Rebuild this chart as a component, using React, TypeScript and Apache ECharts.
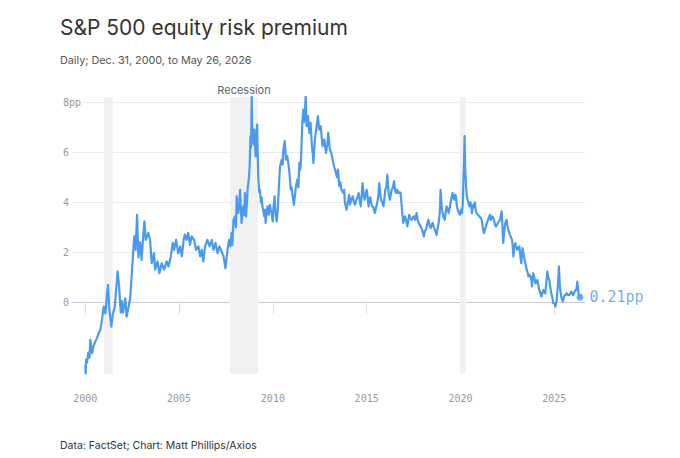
import React, { useEffect, useRef } from "react";
import * as echarts from "echarts";

// [decimal year, equity risk premium in percentage points]
const premiumSeries: [number, number][] = [
  [2000.0, -2.5], [2000.02, -2.83], [2000.04, -2.29], [2000.09, -2.4], [2000.16, -2.0], [2000.22, -2.2],
  [2000.27, -1.49], [2000.36, -2.02], [2000.43, -1.75], [2000.5, -1.62], [2000.62, -1.42], [2000.71, -1.22],
  [2000.8, -1.09], [2000.89, -0.69], [2000.98, -0.16], [2001.07, -0.43], [2001.16, 0.38], [2001.21, 0.71],
  [2001.28, -0.29], [2001.39, -0.96], [2001.46, -0.49], [2001.57, -0.16], [2001.67, 0.78], [2001.72, 1.24],
  [2001.8, 0.65], [2001.89, -0.4], [2001.94, 0.07], [2002.01, -0.4], [2002.13, 0.17], [2002.2, -0.56],
  [2002.31, -0.16], [2002.4, 0.24], [2002.49, 1.31], [2002.56, 2.1], [2002.61, 2.64], [2002.68, 2.1],
  [2002.76, 3.5], [2002.83, 1.8], [2002.92, 2.4], [2003.0, 1.7], [2003.08, 2.6], [2003.15, 3.24],
  [2003.22, 2.5], [2003.36, 2.78], [2003.45, 2.5], [2003.54, 1.57], [2003.66, 1.97], [2003.72, 1.31],
  [2003.85, 1.64], [2003.95, 1.17], [2004.07, 1.57], [2004.2, 1.31], [2004.34, 1.64], [2004.43, 1.44],
  [2004.56, 1.84], [2004.66, 2.38], [2004.73, 2.1], [2004.84, 2.5], [2004.95, 1.97], [2005.06, 2.24],
  [2005.15, 1.84], [2005.24, 2.5], [2005.31, 2.71], [2005.4, 2.5], [2005.49, 2.78], [2005.58, 2.3],
  [2005.67, 2.64], [2005.8, 2.5], [2005.9, 2.1], [2006.03, 2.24], [2006.12, 1.84], [2006.21, 2.1],
  [2006.29, 1.64], [2006.38, 2.24], [2006.51, 2.5], [2006.62, 2.24], [2006.74, 2.5], [2006.83, 2.1],
  [2006.94, 2.38], [2007.05, 1.97], [2007.15, 2.24], [2007.26, 2.04], [2007.37, 1.84], [2007.47, 1.37],
  [2007.58, 2.1], [2007.66, 2.5], [2007.73, 2.24], [2007.8, 2.78], [2007.84, 2.3], [2007.9, 3.3],
  [2007.98, 3.44], [2008.03, 3.0], [2008.07, 4.24], [2008.12, 3.6], [2008.16, 3.57], [2008.21, 4.0],
  [2008.25, 4.5], [2008.33, 3.18], [2008.38, 3.6], [2008.42, 3.84], [2008.47, 3.5], [2008.51, 4.37],
  [2008.57, 3.44], [2008.62, 4.0], [2008.65, 4.5], [2008.73, 5.04], [2008.77, 5.6], [2008.8, 6.64],
  [2008.84, 6.2], [2008.87, 8.24], [2008.9, 6.8], [2008.94, 6.5], [2008.98, 6.3], [2009.01, 6.9],
  [2009.05, 6.3], [2009.08, 5.84], [2009.12, 6.6], [2009.16, 7.1], [2009.19, 6.0], [2009.22, 5.04],
  [2009.27, 4.4], [2009.31, 4.5], [2009.36, 4.0], [2009.4, 4.2], [2009.44, 3.84], [2009.5, 3.6],
  [2009.54, 3.44], [2009.58, 3.7], [2009.61, 3.18], [2009.66, 3.6], [2009.72, 3.84], [2009.78, 3.5],
  [2009.84, 3.9], [2009.89, 3.7], [2009.93, 3.57], [2009.99, 3.24], [2010.04, 3.9], [2010.09, 4.24],
  [2010.14, 3.6], [2010.2, 3.24], [2010.26, 3.7], [2010.31, 4.5], [2010.38, 5.44], [2010.47, 5.7],
  [2010.52, 5.5], [2010.56, 6.1], [2010.63, 6.44], [2010.7, 5.7], [2010.77, 5.84], [2010.83, 5.5],
  [2010.88, 5.2], [2010.95, 4.5], [2011.0, 4.6], [2011.05, 4.24], [2011.12, 3.9], [2011.18, 4.3],
  [2011.23, 4.64], [2011.3, 4.9], [2011.36, 4.6], [2011.41, 5.57], [2011.46, 5.3], [2011.5, 5.7],
  [2011.57, 7.17], [2011.62, 7.7], [2011.66, 7.2], [2011.69, 7.44], [2011.75, 8.24], [2011.8, 7.04],
  [2011.87, 7.44], [2011.94, 6.77], [2012.01, 7.17], [2012.08, 6.24], [2012.12, 6.0], [2012.16, 5.57],
  [2012.2, 6.1], [2012.24, 6.5], [2012.33, 7.04], [2012.4, 7.44], [2012.47, 6.9], [2012.55, 7.04],
  [2012.6, 6.6], [2012.65, 6.24], [2012.74, 6.5], [2012.83, 5.97], [2012.9, 6.3], [2012.95, 6.77],
  [2013.04, 6.1], [2013.1, 6.0], [2013.15, 5.84], [2013.21, 5.6], [2013.26, 5.44], [2013.36, 5.17],
  [2013.42, 5.0], [2013.47, 5.3], [2013.54, 4.64], [2013.6, 4.8], [2013.65, 4.5], [2013.75, 4.37],
  [2013.8, 4.5], [2013.84, 3.97], [2013.93, 3.7], [2013.97, 3.9], [2014.02, 4.1], [2014.07, 4.3],
  [2014.11, 3.9], [2014.18, 4.1], [2014.25, 4.24], [2014.32, 4.0], [2014.38, 3.9], [2014.45, 4.1],
  [2014.52, 4.2], [2014.57, 4.37], [2014.63, 4.1], [2014.68, 3.84], [2014.73, 4.2], [2014.78, 4.77],
  [2014.84, 4.3], [2014.89, 4.1], [2015.0, 4.5], [2015.05, 4.2], [2015.1, 3.84], [2015.14, 4.1],
  [2015.2, 4.2], [2015.26, 3.9], [2015.35, 3.8], [2015.44, 3.57], [2015.5, 3.8], [2015.57, 4.0],
  [2015.63, 4.3], [2015.67, 4.77], [2015.72, 4.4], [2015.76, 4.1], [2015.83, 4.0], [2015.89, 3.84],
  [2015.94, 4.1], [2015.99, 4.5], [2016.05, 4.6], [2016.1, 5.1], [2016.17, 4.37], [2016.24, 4.1],
  [2016.33, 4.5], [2016.4, 4.6], [2016.46, 4.84], [2016.51, 4.5], [2016.56, 4.37], [2016.62, 4.5],
  [2016.69, 4.37], [2016.75, 4.4], [2016.81, 4.37], [2016.85, 4.0], [2016.88, 3.7], [2016.95, 3.18],
  [2017.04, 3.44], [2017.1, 3.3], [2017.17, 3.04], [2017.22, 3.3], [2017.27, 3.5], [2017.33, 3.35],
  [2017.4, 3.3], [2017.46, 3.4], [2017.52, 3.44], [2017.58, 3.3], [2017.66, 3.57], [2017.72, 3.3],
  [2017.77, 3.18], [2017.83, 3.1], [2017.88, 3.04], [2017.93, 2.95], [2017.98, 2.84], [2018.05, 2.64],
  [2018.1, 2.85], [2018.16, 2.9], [2018.22, 3.1], [2018.29, 3.3], [2018.35, 3.1], [2018.41, 2.97],
  [2018.47, 3.1], [2018.52, 3.18], [2018.58, 3.0], [2018.64, 2.9], [2018.69, 2.8], [2018.73, 2.7],
  [2018.79, 3.0], [2018.84, 3.18], [2018.9, 3.6], [2018.94, 4.5], [2018.99, 3.9], [2019.05, 3.57],
  [2019.1, 3.4], [2019.16, 3.3], [2019.21, 3.6], [2019.26, 3.84], [2019.32, 3.7], [2019.37, 3.57],
  [2019.43, 3.8], [2019.48, 4.0], [2019.53, 4.2], [2019.58, 4.37], [2019.63, 4.2], [2019.67, 4.1],
  [2019.72, 4.3], [2019.76, 4.24], [2019.8, 3.9], [2019.85, 3.7], [2019.91, 3.6], [2019.97, 3.5],
  [2020.03, 3.7], [2020.08, 3.57], [2020.12, 3.9], [2020.15, 4.64], [2020.19, 5.6], [2020.22, 6.64],
  [2020.25, 5.4], [2020.29, 4.77], [2020.33, 4.3], [2020.38, 4.1], [2020.42, 4.0], [2020.47, 3.84],
  [2020.54, 4.0], [2020.58, 3.8], [2020.61, 3.57], [2020.68, 3.9], [2020.72, 3.8], [2020.77, 4.0],
  [2020.81, 3.7], [2020.86, 3.57], [2020.93, 3.5], [2021.0, 3.44], [2021.06, 3.4], [2021.13, 3.3],
  [2021.19, 3.0], [2021.25, 2.77], [2021.3, 2.9], [2021.36, 3.04], [2021.42, 3.2], [2021.47, 3.3],
  [2021.52, 3.4], [2021.57, 3.5], [2021.62, 3.3], [2021.68, 3.44], [2021.74, 3.4], [2021.79, 3.3],
  [2021.84, 3.1], [2021.89, 3.04], [2021.95, 3.1], [2022.0, 3.18], [2022.06, 3.25], [2022.11, 3.3],
  [2022.16, 3.5], [2022.2, 3.64], [2022.24, 3.0], [2022.28, 2.38], [2022.33, 2.8], [2022.39, 3.18],
  [2022.46, 3.3], [2022.5, 3.1], [2022.55, 2.9], [2022.6, 2.8], [2022.64, 2.7], [2022.7, 2.6],
  [2022.75, 2.5], [2022.79, 2.2], [2022.82, 1.84], [2022.87, 2.2], [2022.92, 2.37], [2022.98, 2.2],
  [2023.03, 2.1], [2023.09, 2.2], [2023.14, 2.24], [2023.19, 1.9], [2023.24, 1.57], [2023.28, 1.9],
  [2023.31, 2.17], [2023.37, 1.9], [2023.42, 1.7], [2023.48, 1.5], [2023.53, 1.31], [2023.58, 1.2],
  [2023.63, 1.04], [2023.68, 1.1], [2023.74, 1.04], [2023.78, 0.9], [2023.81, 0.64], [2023.85, 0.9],
  [2023.88, 1.17], [2023.94, 1.0], [2023.99, 0.77], [2024.05, 0.8], [2024.1, 0.9], [2024.15, 0.7],
  [2024.2, 0.5], [2024.26, 0.4], [2024.31, 0.24], [2024.37, 0.4], [2024.42, 0.5], [2024.47, 0.4],
  [2024.52, 0.37], [2024.58, 0.8], [2024.63, 1.24], [2024.68, 1.0], [2024.74, 0.9], [2024.79, 0.6],
  [2024.84, 0.37], [2024.9, 0.2], [2024.95, -0.03], [2025.02, -0.05], [2025.06, -0.16], [2025.13, 0.1],
  [2025.2, 0.77], [2025.25, 1.44], [2025.3, 0.64], [2025.37, 0.24], [2025.45, 0.04], [2025.52, 0.24],
  [2025.59, 0.3], [2025.66, 0.37], [2025.73, 0.3], [2025.8, 0.3], [2025.86, 0.35], [2025.91, 0.44],
  [2025.96, 0.35], [2026.01, 0.3], [2026.07, 0.4], [2026.12, 0.5], [2026.18, 0.5], [2026.23, 0.84],
  [2026.3, 0.37], [2026.37, 0.21],
];

const xTickYears = [2000, 2005, 2010, 2015, 2020, 2025];
const yTickValues = [0, 2, 4, 6, 8];
const recessionStart = [2001.0, 2007.72, 2019.97];
const recessionEnd = [2001.46, 2009.2, 2020.27];
const recessionNames = ["", "Recession", ""];

const TITLE = "S&P 500 equity risk premium";
const SUBTITLE = "Daily; Dec. 31, 2000, to May 26, 2026";
const FOOTER = "Data: FactSet; Chart: Matt Phillips/Axios";

const BLUE = "#4a9bf0";
const MONO = "'DejaVu Sans Mono', 'Liberation Mono', monospace";
const SANS = "Inter, 'Noto Sans', sans-serif";

export default function App() {
  const ref = useRef<HTMLDivElement>(null);

  useEffect(() => {
    document.body.style.margin = "0";
    if (!ref.current) return;
    const chart = echarts.init(ref.current, null, { renderer: "svg" });
    const last = premiumSeries[premiumSeries.length - 1];

    chart.setOption({
      animation: false,
      backgroundColor: "#fff",
      grid: { left: 63, right: 95, top: 97, bottom: 84 },
      xAxis: {
        type: "value",
        min: 1998.81,
        max: 2026.64,
        axisLine: { show: false },
        splitLine: { show: false },
        axisTick: {
          show: true,
          length: 12,
          customValues: xTickYears,
          lineStyle: { color: "#dddddd" },
        },
        axisLabel: {
          customValues: xTickYears,
          margin: 19,
          color: "#999",
          fontFamily: MONO,
          fontSize: 10,
          formatter: (v: number) => String(v),
        },
      },
      yAxis: {
        type: "value",
        min: -2.85,
        max: 8.2,
        axisLine: { show: false },
        axisTick: { show: false, customValues: yTickValues },
        axisLabel: {
          customValues: yTickValues,
          inside: true,
          margin: 0,
          color: "#999",
          fontFamily: MONO,
          fontSize: 10,
          backgroundColor: "#fff",
          padding: [2, 3, 2, 0],
          formatter: (v: number) => (v === 8 ? "8pp" : String(v)),
        },
        splitLine: {
          show: true,
          lineStyle: {
            color: ["#c8c8c8", "#ececec", "#ececec", "#ececec", "#ececec"],
            width: 1,
          },
        },
      },
      series: [
        {
          type: "line",
          data: [],
          z: 1,
          silent: true,
          markArea: {
            silent: true,
            itemStyle: { color: "#f1f1f1" },
            label: {
              show: true,
              position: "top",
              distance: 2,
              color: "#666",
              fontFamily: SANS,
              fontSize: 11,
              formatter: (p: any) => p.name,
            },
            data: recessionStart.map((s, i) => [
              { xAxis: s, name: recessionNames[i] },
              { xAxis: recessionEnd[i] },
            ]),
          },
        },
        {
          type: "line",
          data: premiumSeries,
          z: 3,
          showSymbol: false,
          symbol: "none",
          lineStyle: { color: BLUE, width: 2.2, join: "round" },
          silent: true,
        },
        {
          type: "scatter",
          data: [last],
          z: 4,
          symbolSize: 7,
          itemStyle: { color: BLUE },
          silent: true,
          label: {
            show: true,
            position: "right",
            distance: 6,
            color: BLUE,
            fontFamily: MONO,
            fontSize: 15,
            formatter: (p: any) => p.value[1].toFixed(2) + "pp",
          },
        },
      ],
      graphic: [
        {
          type: "text",
          left: 60,
          top: 17,
          style: { text: TITLE, fontSize: 21, fontFamily: SANS, fill: "#333" },
        },
        {
          type: "text",
          left: 60,
          top: 55,
          style: { text: SUBTITLE, fontSize: 10.8, fontFamily: SANS, fill: "#555" },
        },
        {
          type: "text",
          left: 60,
          top: 440,
          style: { text: FOOTER, fontSize: 10.5, fontFamily: SANS, fill: "#333" },
        },
      ],
    });

    return () => chart.dispose();
  }, []);

  return <div ref={ref} style={{ width: 680, height: 458 }} />;
}
